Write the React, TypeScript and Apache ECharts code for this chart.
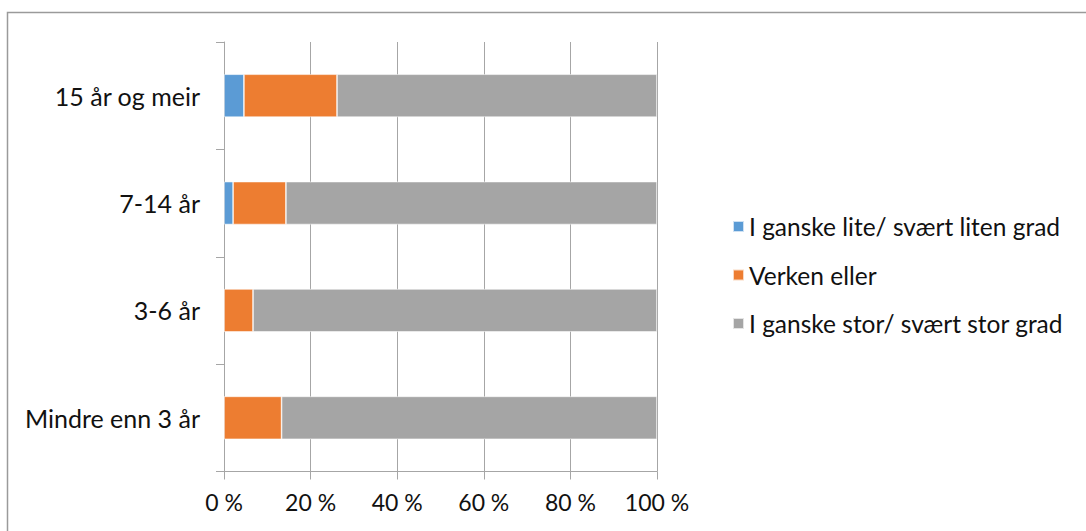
import React, { useEffect, useRef } from "react";
import * as echarts from "echarts";

// Years of experience groups, bottom to top
const categories = ["Mindre enn 3 år", "3-6 år", "7-14 år", "15 år og meir"];

// Share of answers (%) per group
const lowDegree = [0, 0, 2.1, 4.6];
const neither = [13.3, 6.7, 12.2, 21.5];
const highDegree = [86.7, 93.3, 85.7, 73.9];

const seriesNames = [
  "I ganske lite/ svært liten grad",
  "Verken eller",
  "I ganske stor/ svært stor grad",
];

const xTicks = { min: 0, max: 100, interval: 20 };

const FONT = "Lato, 'Noto Sans', sans-serif";
const TEXT_COLOR = "#111";
const LINE_COLOR = "#a6a6a6";

export default function App() {
  const ref = useRef<HTMLDivElement>(null);

  useEffect(() => {
    if (!ref.current) return;
    const chart = echarts.init(ref.current, undefined, { renderer: "svg" });

    const barStyle = (color: string) => ({
      color,
      borderColor: "rgba(255,255,255,0.7)",
      borderWidth: 0.75,
    });

    chart.setOption({
      animation: false,
      backgroundColor: "#fff",
      textStyle: { fontFamily: FONT },
      graphic: [
        {
          type: "rect",
          shape: { x: 7.5, y: 12.5, width: 1100, height: 540 },
          style: { fill: "none", stroke: "#9a9a9a", lineWidth: 1.5 },
          silent: true,
        },
      ],
      grid: { left: 224, right: 429, top: 42, bottom: 59.5, containLabel: false },
      legend: {
        orient: "vertical",
        left: 727,
        top: 209,
        itemWidth: 11,
        itemHeight: 11,
        itemGap: 23.5,
        icon: "rect",
        data: seriesNames,
        textStyle: {
          fontFamily: FONT,
          fontSize: 24.5,
          color: TEXT_COLOR,
          lineHeight: 24,
        },
      },
      xAxis: {
        type: "value",
        min: xTicks.min,
        max: xTicks.max,
        interval: xTicks.interval,
        axisLine: { show: true, lineStyle: { color: LINE_COLOR, width: 1 } },
        axisTick: { show: true, length: 8, lineStyle: { color: LINE_COLOR } },
        splitLine: { show: true, lineStyle: { color: LINE_COLOR, width: 1 } },
        axisLabel: {
          formatter: "{value} %",
          fontFamily: FONT,
          fontSize: 23,
          color: TEXT_COLOR,
          margin: 19,
        },
      },
      yAxis: {
        type: "category",
        data: categories,
        axisLine: { show: true, lineStyle: { color: LINE_COLOR, width: 1 } },
        axisTick: { show: true, length: 8, lineStyle: { color: LINE_COLOR } },
        axisLabel: {
          fontFamily: FONT,
          fontSize: 25,
          color: TEXT_COLOR,
          margin: 24,
        },
      },
      series: [
        {
          name: seriesNames[0],
          type: "bar",
          stack: "total",
          barCategoryGap: "60%",
          itemStyle: barStyle("#5b9bd5"),
          data: lowDegree,
        },
        {
          name: seriesNames[1],
          type: "bar",
          stack: "total",
          barCategoryGap: "60%",
          itemStyle: barStyle("#ed7d31"),
          data: neither,
        },
        {
          name: seriesNames[2],
          type: "bar",
          stack: "total",
          barCategoryGap: "60%",
          itemStyle: barStyle("#a5a5a5"),
          data: highDegree,
        },
      ],
    });

    return () => chart.dispose();
  }, []);

  return (
    <div
      ref={ref}
      style={{ position: "fixed", left: 0, top: 0, width: 1086, height: 531 }}
    />
  );
}
